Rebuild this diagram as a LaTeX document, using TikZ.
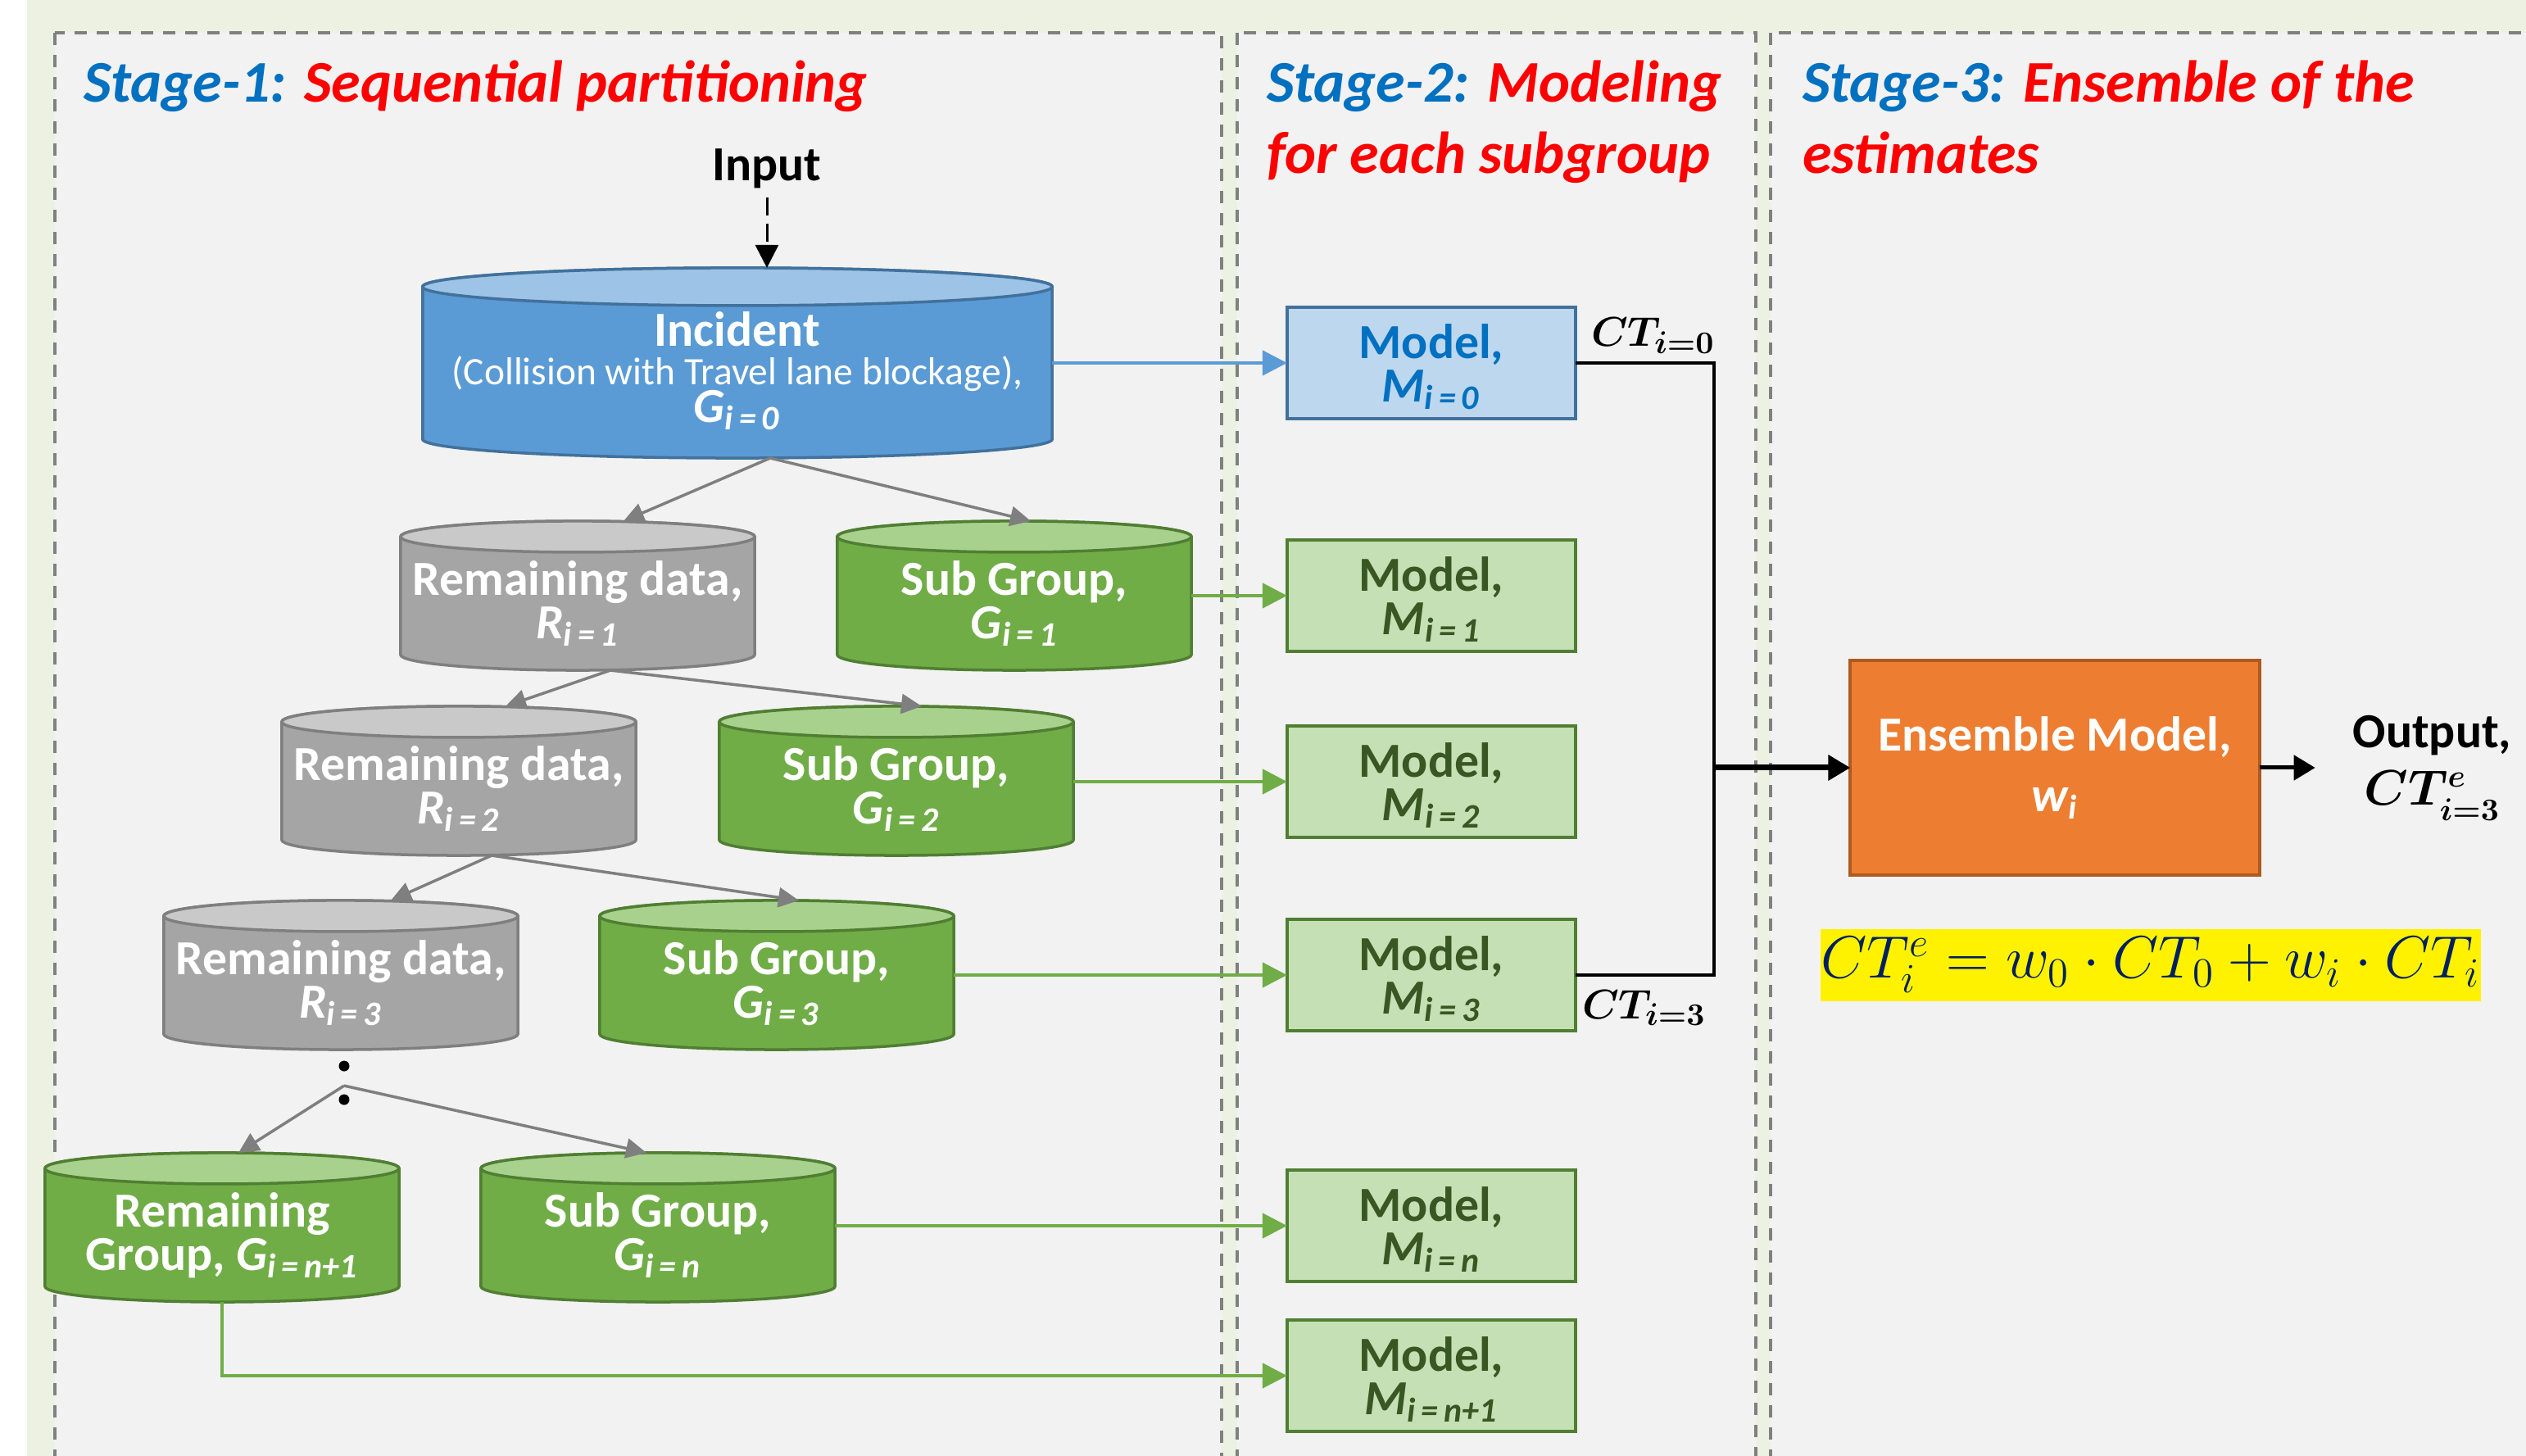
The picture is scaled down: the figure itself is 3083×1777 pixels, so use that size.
\documentclass[tikz,border=0pt]{standalone}
\usepackage{fontspec}
\setmainfont{Carlito}
\usepackage{amsmath,amssymb}
\usepackage{tikz}
\usetikzlibrary{positioning,shapes,arrows.meta}

\definecolor{pageolive}{HTML}{EDF1E2}
\definecolor{panelgray}{HTML}{F2F2F2}
\definecolor{dashgray}{HTML}{808080}
\definecolor{stblue}{HTML}{0070C0}
\definecolor{stred}{HTML}{FF0000}
\definecolor{incfill}{HTML}{5B9BD5}
\definecolor{inctop}{HTML}{9DC3E6}
\definecolor{incline}{HTML}{41719C}
\definecolor{remfill}{HTML}{A5A5A5}
\definecolor{remtop}{HTML}{C9C9C9}
\definecolor{remline}{HTML}{7F7F7F}
\definecolor{grpfill}{HTML}{70AD47}
\definecolor{grptop}{HTML}{A9D18E}
\definecolor{grpline}{HTML}{507E32}
\definecolor{mdlfill}{HTML}{C5E0B4}
\definecolor{mdltext}{HTML}{385723}
\definecolor{mdlblue}{HTML}{BDD7EE}
\definecolor{ensfill}{HTML}{ED7D31}
\definecolor{ensline}{HTML}{AE5A21}
\definecolor{eqnavy}{HTML}{002060}

\pgfdeclarelayer{back}
\pgfdeclarelayer{mid}
\pgfsetlayers{back,mid,main}

\newcommand{\tightlines}{\lineskiplimit=-20pt\relax}
\newcommand{\ssub}[2]{\textit{#1}\textsubscript{\textit{#2}}}
% pushes the first text line of a drum or box a little lower
\newcommand{\dbstrut}{\rule{0pt}{17.5pt}}
\newcommand{\mdstrut}{\rule{0pt}{14.5pt}}
% database drum behind a node: node, half width, end radius, body, end, line
\newcommand{\dbshape}[6]{%
  \path[fill=#4, draw=#6, line width=0.035cm]
    ([yshift=-#3]#1.north west) -- ([yshift=#3]#1.south west)
    arc[start angle=180, end angle=360, x radius=#2, y radius=#3]
    -- ([yshift=-#3]#1.north east)
    arc[start angle=0, end angle=180, x radius=#2, y radius=#3] -- cycle;
  \path[fill=#5, draw=#6, line width=0.035cm]
    ([yshift=-#3]#1.north) ellipse [x radius=#2, y radius=#3];}

\begin{document}
\begin{tikzpicture}
  [x=0.01cm, y=-0.01cm,
  font=\fontsize{17}{15}\selectfont\bfseries\tightlines,
  every node/.style={align=center, inner sep=0pt, outer sep=0pt},
  panel/.style={fill=panelgray, draw=dashgray, line width=0.033cm,
    dash pattern=on 0.15cm off 0.12cm},
  stagetitle/.style={anchor=base west, align=left, text=stred,
    font=\fontsize{20.5}{25}\selectfont\bfseries\itshape},
  dbbox/.style={rectangle, minimum width=4.32cm, minimum height=1.82cm, text=white},
  model/.style={rectangle, minimum width=3.52cm, minimum height=1.36cm,
    line width=0.045cm, draw=grpline, fill=mdlfill, text=mdltext},
  splitarrow/.style={draw=remline, line width=0.035cm,
    -{Triangle[length=0.25cm,width=0.24cm]}},
  feedarrow/.style={draw=grpfill, line width=0.045cm,
    -{Triangle[length=0.3cm,width=0.3cm]}},
  ctlabel/.style={anchor=base west, font=\fontsize{15.5}{16}\selectfont\boldmath},
  ]
  \useasboundingbox (0,0) rectangle (3083,1777);

  % the three stages
  \begin{pgfonlayer}{back}
    \fill[pageolive] (33,0) rectangle (3083,1777);
    \draw[panel] (67,40) rectangle (1491,1850);
    \draw[panel] (1510,40) rectangle (2143,1850);
    \draw[panel] (2161,40) rectangle (3200,1850);
  \end{pgfonlayer}
  \node[stagetitle] (st1) at (102,125) {\textcolor{stblue}{Stage-1:} Sequential partitioning};
  \node[stagetitle] (st2) at (1546,212) {\textcolor{stblue}{Stage-2:} Modeling\\for each subgroup};
  \node[stagetitle] (st3) at (2200,212) {\textcolor{stblue}{Stage-3:} Ensemble of the\\estimates};

  % stage 1: partitioning
  \node[anchor=base] (input) at (936,221) {Input};
  \node[dbbox, minimum width=7.68cm, minimum height=2.32cm,
    font=\fontsize{17}{13.2}\selectfont\bfseries\tightlines] (inc) at (900,443)
    {\dbstrut Incident\\ {\mdseries\fontsize{13.5}{13}\selectfont(Collision with Travel lane blockage),}\\ \ssub{G}{i\,=\,0}};
  \node[dbbox] (r1) at (705,727) {\dbstrut Remaining data,\\ \ssub{R}{i\,=\,1}};
  \node[dbbox] (g1) at (1238,727) {\dbstrut Sub Group,\\ \ssub{G}{i\,=\,1}};
  \node[dbbox] (r2) at (560,953) {\dbstrut Remaining data,\\ \ssub{R}{i\,=\,2}};
  \node[dbbox] (g2) at (1094,953) {\dbstrut Sub Group,\\ \ssub{G}{i\,=\,2}};
  \node[dbbox] (r3) at (416,1190) {\dbstrut Remaining data,\\ \ssub{R}{i\,=\,3}};
  \node[dbbox] (g3) at (948,1190) {\dbstrut Sub Group,\\ \ssub{G}{i\,=\,3}};
  \node[dbbox] (rn) at (271,1498) {\dbstrut Remaining\\ Group, \ssub{G}{i\,=\,n+1}};
  \node[dbbox] (gn) at (803,1498) {\dbstrut Sub Group,\\ \ssub{G}{i\,=\,n}};
  \begin{pgfonlayer}{mid}
    \dbshape{inc}{3.84cm}{0.23cm}{incfill}{inctop}{incline}
    \dbshape{r1}{2.16cm}{0.19cm}{remfill}{remtop}{remline}
    \dbshape{r2}{2.16cm}{0.19cm}{remfill}{remtop}{remline}
    \dbshape{r3}{2.16cm}{0.19cm}{remfill}{remtop}{remline}
    \dbshape{g1}{2.16cm}{0.19cm}{grpfill}{grptop}{grpline}
    \dbshape{g2}{2.16cm}{0.19cm}{grpfill}{grptop}{grpline}
    \dbshape{g3}{2.16cm}{0.19cm}{grpfill}{grptop}{grpline}
    \dbshape{gn}{2.16cm}{0.19cm}{grpfill}{grptop}{grpline}
    \dbshape{rn}{2.16cm}{0.19cm}{grpfill}{grptop}{grpline}
  \end{pgfonlayer}
  \coordinate (brn) at ([xshift=0.04cm,yshift=-0.44cm]r3.south);
  \fill ([yshift=0.24cm]brn) circle (0.065cm);
  \fill ([yshift=-0.17cm]brn) circle (0.065cm);

  \draw[line width=0.03cm, dash pattern=on 0.22cm off 0.1cm,
    -{Triangle[length=0.28cm,width=0.28cm]}] ([yshift=-0.2cm]input.base) -- (input.base |- inc.north);
  \draw[splitarrow] ([xshift=0.4cm]inc.south) -- ([xshift=0.56cm]r1.north);
  \draw[splitarrow] ([xshift=0.4cm]inc.south) -- ([xshift=0.2cm]g1.north);
  \draw[splitarrow] ([xshift=0.4cm]r1.south) -- ([xshift=0.57cm]r2.north);
  \draw[splitarrow] ([xshift=0.4cm]r1.south) -- ([xshift=0.31cm]g2.north);
  \draw[splitarrow] ([xshift=0.4cm]r2.south) -- ([xshift=0.61cm]r3.north);
  \draw[splitarrow] ([xshift=0.4cm]r2.south) -- ([xshift=0.27cm]g3.north);
  \draw[splitarrow] (brn) -- ([xshift=0.2cm]rn.north);
  \draw[splitarrow] (brn) -- ([xshift=-0.14cm]gn.north);

  % stage 2: one model per subgroup
  \node[model, draw=incline, fill=mdlblue, text=stblue] (m0) at (1747,443) {\mdstrut Model,\\ \ssub{M}{i\,=\,0}};
  \node[model] (m1) at (1747,727) {\mdstrut Model,\\ \ssub{M}{i\,=\,1}};
  \node[model] (m2) at (1747,954) {\mdstrut Model,\\ \ssub{M}{i\,=\,2}};
  \node[model] (m3) at (1747,1190) {\mdstrut Model,\\ \ssub{M}{i\,=\,3}};
  \node[model] (mn) at (1747,1496) {\mdstrut Model,\\ \ssub{M}{i\,=\,n}};
  \node[model] (mn1) at (1747,1679) {\mdstrut Model,\\ \ssub{M}{i\,=\,n+1}};

  \draw[feedarrow, draw=incfill] (inc.east |- m0.west) -- (m0.west);
  \draw[feedarrow] (g1.east |- m1.west) -- (m1.west);
  \draw[feedarrow] (g2.east |- m2.west) -- (m2.west);
  \draw[feedarrow] (g3.east |- m3.west) -- (m3.west);
  \draw[feedarrow] (gn.east |- mn.west) -- (mn.west);
  \draw[feedarrow] (rn.south) |- (mn1.west);

  % stage 3: ensemble
  \node[rectangle, minimum width=4.99cm, minimum height=2.62cm, fill=ensfill,
    draw=ensline, line width=0.04cm, text=white] (ens) at (2508,937)
    {Ensemble Model,\\[6pt] \ssub{w}{i}};
  \node[right=0.68cm of ens, inner xsep=0.46cm] (out)
    {Output,\\[5pt] {\fontsize{16}{16}\selectfont\boldmath$CT^{e}_{i=3}$}};
  \node[fill=yellow, minimum width=7.94cm, minimum height=0.88cm, text=eqnavy,
    font=\fontsize{19.5}{20}\selectfont] (eq) at (2625,1178)
    {$CT_i^e = w_0\cdot CT_0 + w_i\cdot CT_i$};

  \coordinate (jn) at ([xshift=1.69cm]m0.east |- ens.west);
  \draw[line width=0.04cm] (m0.east) -| (jn);
  \draw[line width=0.04cm] (m3.east) -| (jn);
  \draw[line width=0.07cm, -{Triangle[length=0.27cm,width=0.3cm]}] (jn) -- (ens.west);
  \draw[line width=0.05cm, -{Triangle[length=0.26cm,width=0.3cm]}] (ens.east) -- (out.west);
  \node[ctlabel] (ct0) at ([xshift=0.19cm,yshift=0.2cm]m0.east) {$CT_{i=0}$};
  \node[ctlabel] (ct3) at ([xshift=0.08cm,yshift=-0.53cm]m3.east) {$CT_{i=3}$};
\end{tikzpicture}
\end{document}
